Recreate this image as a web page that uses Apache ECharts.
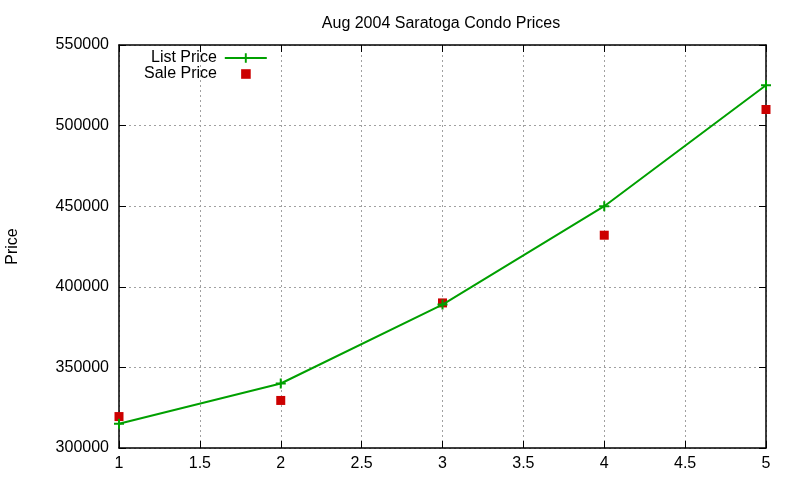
<!DOCTYPE html>
<html>
<head>
<meta charset="utf-8">
<title>Aug 2004 Saratoga Condo Prices</title>
<script src="https://cdn.jsdelivr.net/npm/echarts@6/dist/echarts.min.js"></script>
<style>
  html, body { margin: 0; padding: 0; background: #fff; }
  #chart { width: 800px; height: 480px; }
</style>
</head>
<body>
<div id="chart"></div>
<script>
// data
const units = [1, 2, 3, 4, 5];
const listPrice = [315000, 340000, 389000, 450000, 525000];
const salePrice = [319500, 329500, 390000, 432000, 510000];

const font = 'Liberation Sans, Arial, sans-serif';
const plus = 'path://M4,0H6V4H10V6H6V10H4V6H0V4H4Z';

const chart = echarts.init(document.getElementById('chart'));

const gridLine = { show: true, lineStyle: { color: '#a0a0a0', type: [2, 3], width: 1 } };
const axisBlack = { show: true, onZero: false, lineStyle: { color: '#000', width: 1.5 } };
const tickIn = { show: true, inside: true, length: 7, lineStyle: { color: '#000' } };

const option = {
    animation: false,
    title: {
        text: 'Aug 2004 Saratoga Condo Prices',
        left: 436, textAlign: 'center', top: 11,
        textStyle: { fontFamily: font, fontSize: 16, fontWeight: 'normal', color: '#000' }
    },
    legend: [
        {
            data: ['List Price'], left: 146, top: 45, align: 'right',
            itemWidth: 42, itemHeight: 12, itemGap: 0,
            textStyle: { fontFamily: font, fontSize: 16, color: '#000', padding: [0, 3, 0, 0] }
        },
        {
            data: ['Sale Price'], left: 139, top: 61, align: 'right',
            itemWidth: 42, itemHeight: 12, itemGap: 0,
            textStyle: { fontFamily: font, fontSize: 16, color: '#000', padding: [0, 3, 0, 0] }
        }
    ],
    grid: { left: 119, right: 34, top: 45, bottom: 32, outerBoundsMode: 'none' },
    xAxis: [
        {
            type: 'value', min: 1, max: 5, interval: 0.5,
            axisLine: axisBlack, axisTick: tickIn, splitLine: gridLine,
            axisLabel: { fontFamily: font, fontSize: 16, color: '#000', margin: 8 }
        },
        {
            type: 'value', position: 'top', min: 1, max: 5, interval: 0.5,
            axisLine: axisBlack, axisTick: tickIn, splitLine: { show: false },
            axisLabel: { show: false }
        }
    ],
    yAxis: [
        {
            type: 'value', min: 300000, max: 550000, interval: 50000,
            name: 'Price', nameLocation: 'middle', nameGap: 98, nameRotate: 90,
            nameTextStyle: { fontFamily: font, fontSize: 16, color: '#000' },
            axisLine: axisBlack, axisTick: tickIn, splitLine: gridLine,
            axisLabel: { fontFamily: font, fontSize: 16, color: '#000', margin: 10, formatter: v => String(v) }
        },
        {
            type: 'value', position: 'right', min: 300000, max: 550000, interval: 50000,
            axisLine: axisBlack, axisTick: tickIn, splitLine: { show: false },
            axisLabel: { show: false }
        }
    ],
    series: [
        {
            name: 'List Price', type: 'line',
            data: units.map((u, i) => [u, listPrice[i]]),
            symbol: plus, symbolSize: 10,
            lineStyle: { color: '#00a000', width: 2 },
            itemStyle: { color: '#00a000' },
            z: 3
        },
        {
            name: 'Sale Price', type: 'line',
            data: units.map((u, i) => [u, salePrice[i]]),
            symbol: 'rect', symbolSize: 9,
            lineStyle: { width: 0, opacity: 0 },
            itemStyle: { color: '#cc0000' },
            z: 2
        }
    ]
};

chart.setOption(option);
</script>
</body>
</html>
